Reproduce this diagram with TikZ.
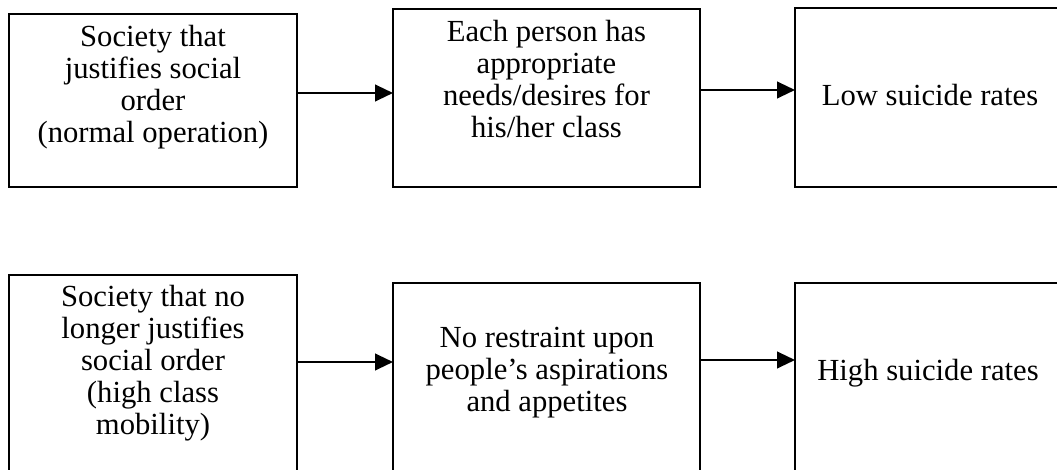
\documentclass[tikz,border=0pt]{standalone}
\usepackage{fontspec}
\setmainfont{Liberation Serif}
\usetikzlibrary{arrows.meta}
\newcommand{\lines}[1]{\begin{tabular}[t]{@{}c@{}}#1\end{tabular}}
\tikzset{
  box/.style={draw=black, line width=1.6pt, inner sep=0pt, outer sep=0pt, rectangle},
  lbl/.style={anchor=base, inner sep=0pt, font=\fontsize{23}{23.9}\selectfont},
  conn/.style={line width=1.6pt, -{Triangle[length=13.5pt,width=12.5pt]}}
}
\begin{document}
\begin{tikzpicture}[x=0.75pt,y=-0.75pt]
\useasboundingbox (0,0) rectangle (1057,470);
\clip (0,0) rectangle (1057,470);
% top row
\node[box, minimum width=216pt, minimum height=129.75pt] (b1) at (153,100.5) {};
\node[box, minimum width=230.25pt, minimum height=133.5pt] (b2) at (546.5,98) {};
\node[box, minimum width=202.5pt, minimum height=134.25pt] (b3) at (930,97.5) {};
% bottom row
\node[box, minimum width=216pt, minimum height=168.75pt] (b4) at (153,387.5) {};
\node[box, minimum width=230.25pt, minimum height=162.75pt] (b5) at (546.5,391.5) {};
\node[box, minimum width=202.5pt, minimum height=162.75pt] (b6) at (930,391.5) {};
% texts
\node[lbl] (t1) at (153,47) {\lines{Society that\\justifies social\\order\\(normal operation)}};
\node[lbl] (t2) at (546.5,42) {\lines{Each person has\\appropriate\\needs/desires for\\his/her class}};
\node[lbl] (t3) at (930,106) {Low suicide rates};
\node[lbl] (t4) at (153,307) {\lines{Society that no\\longer justifies\\social order\\(high class\\mobility)}};
\node[lbl] (t5) at (547,348) {\lines{No restraint upon\\people’s aspirations\\and appetites}};
\node[lbl] (t6) at (928,380) {High suicide rates};
% connectors
\draw[conn] (b1.east |- 0,93) -- (b2.west |- 0,93);
\draw[conn] (b2.east |- 0,90) -- (b3.west |- 0,90);
\draw[conn] (b4.east |- 0,362) -- (b5.west |- 0,362);
\draw[conn] (b5.east |- 0,360) -- (b6.west |- 0,360);
\end{tikzpicture}
\end{document}
